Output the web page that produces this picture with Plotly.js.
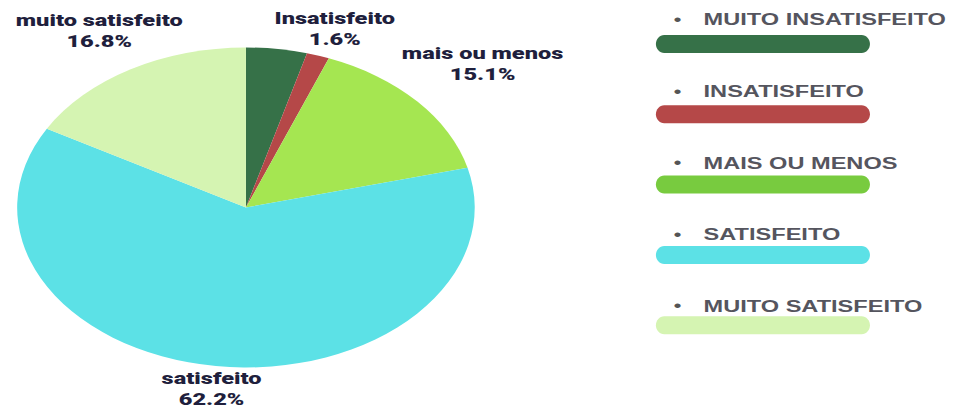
<!DOCTYPE html>
<html>
<head>
<meta charset="utf-8">
<script src="https://cdn.plot.ly/plotly-3.0.1.min.js"></script>
<style>
  html, body { margin: 0; padding: 0; background: #ffffff; }
  #wrap { width: 958px; height: 409px; overflow: hidden; position: relative; }
  #chart { width: 670px; height: 409px; transform: scaleX(1.4299); transform-origin: 0 0; }
</style>
</head>
<body>
<div id="wrap"><div id="chart"></div></div>
<script>
// ---- data ----
const pieLabels = ['muito insatisfeito', 'Insatisfeito', 'mais ou menos', 'satisfeito', 'muito satisfeito'];
const pieValues = [4.3, 1.6, 15.1, 62.2, 16.8];
const showLabel = [false, true, true, true, true];
const legendLabels = ['MUITO INSATISFEITO', 'INSATISFEITO', 'MAIS OU MENOS', 'SATISFEITO', 'MUITO SATISFEITO'];

// ---- styles / layout ----
const sliceColors = ['#367148', '#b54848', '#a5e651', '#5ce1e6', '#d5f4b2'];
const legendColors = ['#367148', '#b54848', '#78cb3f', '#5ce1e6', '#d5f4b2'];
// label centre positions (pre-stretch pixels)
const labelPos = [null, [233.5, 29], [337, 64.5], [148, 388.5], [69, 31.5]];

const W = 670, H = 409;
const px = x => x / W;
const py = y => 1 - y / H;

function roundBar(x0, x1, yc, h, rx) {
  const ry = h / 2, k = 0.5523;
  const yt = yc - ry, yb = yc + ry;
  const P = (x, y) => px(x).toFixed(5) + ',' + py(y).toFixed(5);
  return 'M' + P(x0 + rx, yt) +
    ' L' + P(x1 - rx, yt) +
    ' C' + P(x1 - rx + k * rx, yt) + ' ' + P(x1, yc - k * ry) + ' ' + P(x1, yc) +
    ' C' + P(x1, yc + k * ry) + ' ' + P(x1 - rx + k * rx, yb) + ' ' + P(x1 - rx, yb) +
    ' L' + P(x0 + rx, yb) +
    ' C' + P(x0 + rx - k * rx, yb) + ' ' + P(x0, yc + k * ry) + ' ' + P(x0, yc) +
    ' C' + P(x0, yc - k * ry) + ' ' + P(x0 + rx - k * rx, yt) + ' ' + P(x0 + rx, yt) + ' Z';
}

const trace = {
  type: 'pie',
  labels: pieLabels,
  values: pieValues,
  sort: false,
  direction: 'clockwise',
  rotation: 0,
  marker: { colors: sliceColors, line: { width: 0 } },
  textinfo: 'none',
  hoverinfo: 'none',
  domain: { x: [px(12), px(332)], y: [py(367.5), py(47.5)] },
  automargin: false
};

const total = pieValues.reduce((a, b) => a + b, 0);
const labelFont = { family: 'Roboto, Inter, sans-serif', size: 16.5, color: '#1f1f3d', weight: 900 };

const shapes = [];
const annotations = [];
pieLabels.forEach((lab, i) => {
  if (!showLabel[i]) return;
  const pct = (pieValues[i] / total * 100).toFixed(1) + '%';
  annotations.push({
    xref: 'paper', yref: 'paper', x: px(labelPos[i][0]), y: py(labelPos[i][1]),
    xanchor: 'center', yanchor: 'middle', showarrow: false, align: 'center',
    borderpad: 0,
    text: lab + '<br>' + pct, font: labelFont
  });
});

legendLabels.forEach((lab, i) => {
  const ty = 19.5 + 71.6 * i;
  const by = 44 + 70.3 * i;
  shapes.push({
    type: 'path', xref: 'paper', yref: 'paper',
    path: roundBar(458.7, 608.4, by, 18, 5.8),
    fillcolor: legendColors[i], line: { width: 0 }
  });
  annotations.push({
    xref: 'paper', yref: 'paper', x: px(474), y: py(ty),
    xanchor: 'center', yanchor: 'middle', showarrow: false,
    text: '•', font: { family: 'Liberation Sans, Arial, sans-serif', size: 16, color: '#555555' }
  });
  annotations.push({
    xref: 'paper', yref: 'paper', x: px(489.5), y: py(ty),
    xanchor: 'left', yanchor: 'middle', showarrow: false,
    text: lab, font: { family: 'Liberation Sans, Arial, sans-serif', size: 16.5, color: '#55555e', weight: 'bold' }
  });
});

const layout = {
  width: W, height: H,
  margin: { l: 0, r: 0, t: 0, b: 0 },
  paper_bgcolor: '#ffffff',
  showlegend: false,
  shapes: shapes,
  annotations: annotations
};

Plotly.newPlot('chart', [trace], layout, { displayModeBar: false, staticPlot: true });
</script>
</body>
</html>
